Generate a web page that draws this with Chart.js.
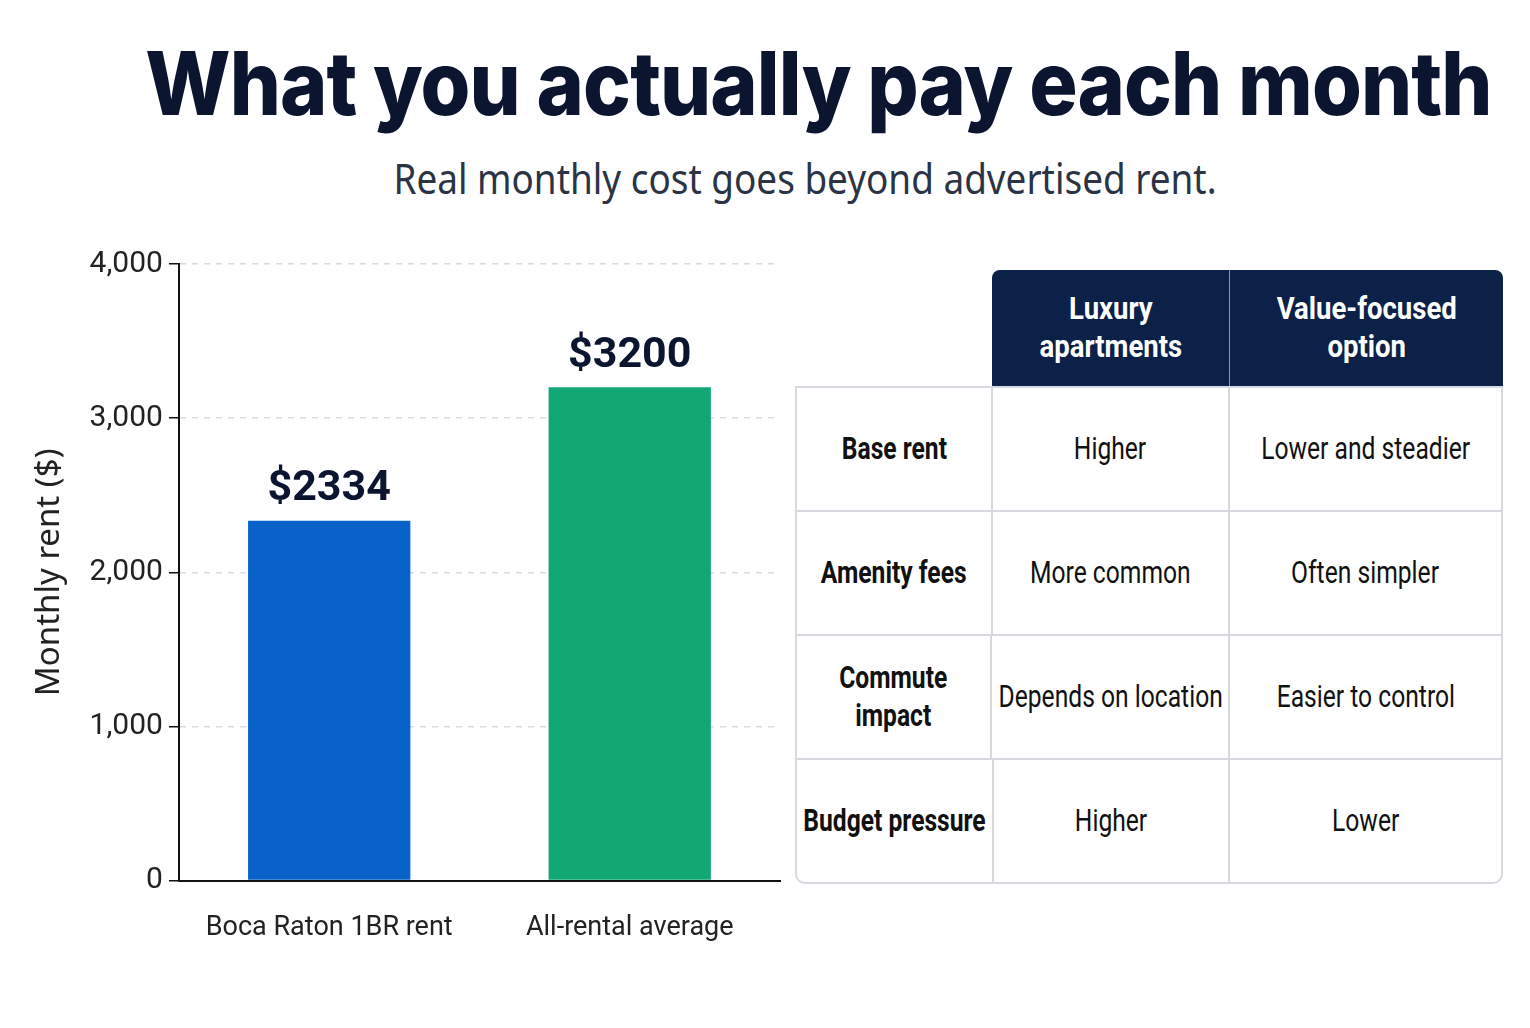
<!DOCTYPE html>
<html>
<head>
<meta charset="utf-8">
<script src="https://cdn.jsdelivr.net/npm/chart.js@4/dist/chart.umd.min.js"></script>
<style>
  body { margin: 0; width: 1530px; height: 1028px; background: #fff; position: relative; overflow: hidden; font-family: Inter, "Noto Sans", sans-serif; }
  #title { position: absolute; left: 0; width: 1637px; top: 30px; text-align: center; font-size: 88px; font-weight: 800; color: #0c1530; letter-spacing: -1px; transform: scaleX(0.916); transform-origin: 818px 0; white-space: nowrap; }
  #subtitle { position: absolute; left: 0; width: 1610px; top: 150px; text-align: center; font-size: 41px; color: #2b3445; font-family: "Noto Sans", sans-serif; transform: scaleX(0.9); transform-origin: 805px 0; white-space: nowrap; }
  #chartBox { position: absolute; left: 0; top: 240px; width: 790px; height: 765px; }
  #table { position: absolute; left: 795px; top: 270px; width: 708px; font-family: Roboto, sans-serif; }
  .row { display: flex; }
  .cell { display: flex; align-items: center; justify-content: center; text-align: center; box-sizing: border-box; font-size: 32px; color: #111; line-height: 1.18; }
  .cell span { display: inline-block; white-space: nowrap; transform: scaleX(0.77); }
  .head .cell span { transform: scaleX(0.86); }
  .c0 { width: 197px; } .c1 { width: 238px; } .c2 { width: 273px; }
  .head .cell { height: 116px; color: #fff; font-weight: bold; background: #0b2148; }
  .head .c0 { background: transparent; }
  .head .c1 { border-top-left-radius: 8px; border-right: 1px solid #8a97b0; }
  .head .c2 { border-top-right-radius: 8px; }
  .body { border: 2px solid #d6d9df; border-top: none; border-radius: 0 0 10px 10px; overflow: hidden; }
  .body .row { border-top: 2px solid #d6d9df; }
  .body .cell { height: 122px; }
  .body .c0 { font-weight: bold; border-right: 2px solid #d6d9df; }
  .body .c1 { border-right: 2px solid #d6d9df; }
</style>
</head>
<body>
<div id="title">What you actually pay each month</div>
<div id="subtitle">Real monthly cost goes beyond advertised rent.</div>
<div id="chartBox"><canvas id="chart"></canvas></div>
<div id="table"></div>
<script>
const categories = ["Boca Raton 1BR rent", "All-rental average"]
const rents = [2334, 3200]
const barColors = ["#0862c9", "#12a874"]
const yTicks = [0, 1000, 2000, 3000, 4000]

const tableHeader = ["", "Luxury<br>apartments", "Value-focused<br>option"]
const rowLabels = ["Base rent", "Amenity fees", "Commute<br>impact", "Budget pressure"]
const luxury = ["Higher", "More common", "Depends on location", "Higher"]
const valueFocused = ["Lower and steadier", "Often simpler", "Easier to control", "Lower"]

// table
const table = document.querySelector("#table")
let html = '<div class="row head">'
tableHeader.forEach((h, i) => html += `<div class="cell c${i}"><span>${h}</span></div>`)
html += '</div><div class="body">'
rowLabels.forEach((label, i) => {
    html += `<div class="row"><div class="cell c0"><span>${label}</span></div><div class="cell c1"><span>${luxury[i]}</span></div><div class="cell c2"><span>${valueFocused[i]}</span></div></div>`
})
html += '</div>'
table.innerHTML = html

const valueLabels = {
    id: "valueLabels",
    afterDatasetsDraw(chart) {
        const ctx = chart.ctx
        const meta = chart.getDatasetMeta(0)
        ctx.save()
        ctx.font = "bold 43px Roboto, sans-serif"
        ctx.fillStyle = "#0c1530"
        ctx.textAlign = "center"
        ctx.textBaseline = "bottom"
        meta.data.forEach((bar, i) => {
            ctx.fillText("$" + rents[i], bar.x, bar.y - 10)
        })
        ctx.restore()
    }
}

const myChart = new Chart(document.querySelector("#chart"), {
    type: "bar",
    data: {
        labels: categories,
        datasets: [{
            data: rents,
            backgroundColor: barColors,
            barPercentage: 0.54,
            categoryPercentage: 1
        }]
    },
    options: {
        responsive: true,
        maintainAspectRatio: false,
        animation: false,
        layout: { padding: { top: 24, right: 10, left: 26, bottom: 30 } },
        plugins: { legend: { display: false }, tooltip: { enabled: false } },
        scales: {
            x: {
                grid: { display: false, drawTicks: false },
                border: { color: "#111", width: 2 },
                ticks: { color: "#222", padding: 31, font: { size: 27, family: "Roboto, sans-serif" } }
            },
            y: {
                min: 0,
                max: 4000,
                afterBuildTicks: (axis) => { axis.ticks = yTicks.map(v => ({ value: v })) },
                grid: { color: "#d9dbe2", lineWidth: 1.5, tickLength: 10, tickColor: "#111" },
                border: { color: "#111", width: 2, dash: [6, 6] },
                ticks: { color: "#222", padding: 6, font: { size: 30, family: "Roboto, sans-serif" }, callback: (v) => v.toLocaleString("en-US") },
                title: { display: true, text: "Monthly rent ($)", color: "#222", padding: { bottom: 14 }, font: { size: 33, family: "'Noto Sans', sans-serif" } }
            }
        }
    },
    plugins: [valueLabels]
})
</script>
</body>
</html>
